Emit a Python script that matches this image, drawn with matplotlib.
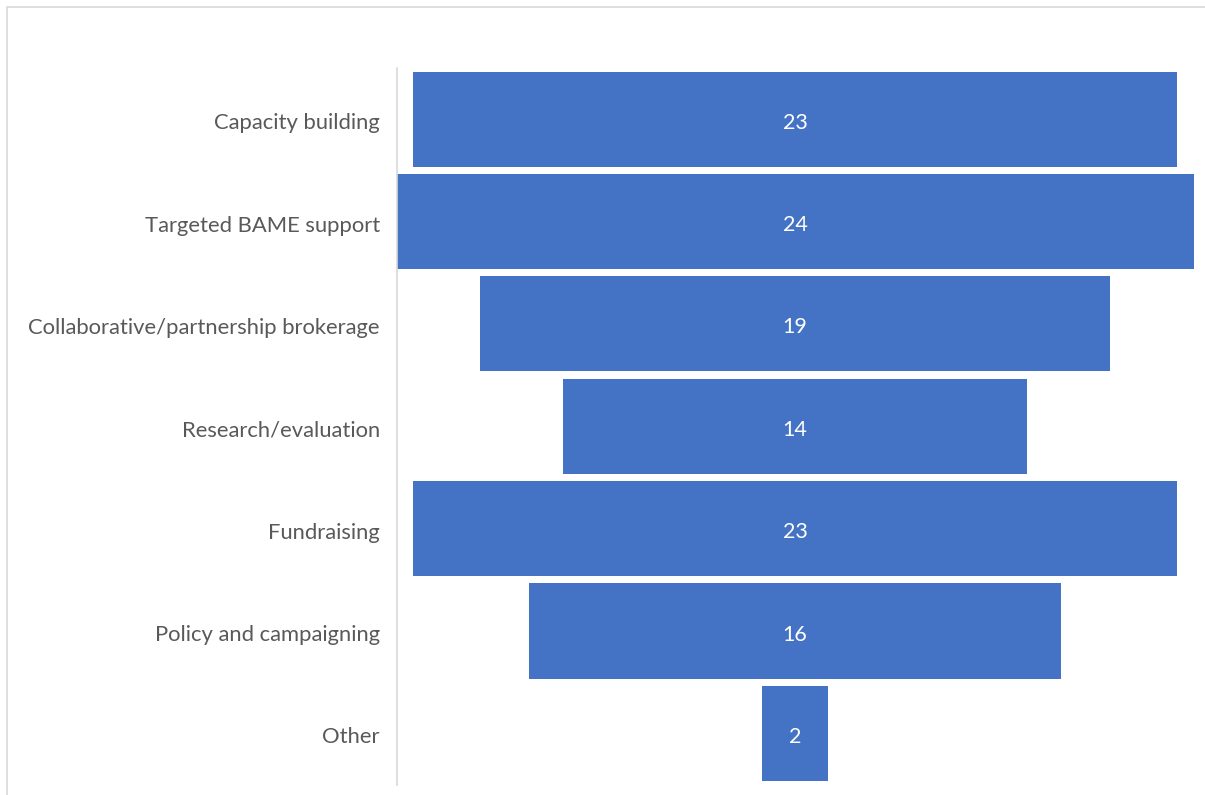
import matplotlib.pyplot as plt
from matplotlib.patches import Rectangle
from matplotlib.transforms import ScaledTranslation

categories = ['Capacity building', 'Targeted BAME support',
              'Collaborative/partnership brokerage', 'Research/evaluation',
              'Fundraising', 'Policy and campaigning', 'Other']
counts = [23, 24, 19, 14, 23, 16, 2]

plt.rcParams['font.family'] = ['Lato', 'DejaVu Sans']

fig = plt.figure(figsize=(12.05, 7.95), dpi=100)

# thin grey frame around the chart area
fig.patches.append(Rectangle((7 / 1205, -0.1), 1.2, 0.1 + (795 - 6.5) / 795,
                             transform=fig.transFigure, fill=False,
                             edgecolor='#d9d9d9', linewidth=1.2))

ax = fig.add_axes([396.5 / 1205, 10.5 / 795, 797 / 1205, 716.5 / 795])

# funnel: each bar is centred on zero
ypos = list(range(len(categories)))
lefts = [-c / 2 for c in counts]
ax.barh(ypos, counts, left=lefts, height=0.93, color='#4472c4')

for y, c in zip(ypos, counts):
    ax.text(0, y + 0.035, str(c), ha='center', va='center', color='white',
            fontsize=15.5)

ax.set_xlim(-12, 12)
ax.set_ylim(len(categories) - 0.5, -0.5)
ax.set_yticks(ypos)
ax.set_yticklabels(categories, fontsize=15.8, color='#595959')
ax.tick_params(axis='y', length=0, pad=12)
ax.set_xticks([])

# nudge category labels down a touch
shift = ScaledTranslation(0, -2 / 100, fig.dpi_scale_trans)
for lbl in ax.get_yticklabels():
    lbl.set_transform(lbl.get_transform() + shift)

for side in ['top', 'right', 'bottom']:
    ax.spines[side].set_visible(False)
ax.spines['left'].set_color('#d9d9d9')
ax.spines['left'].set_linewidth(1.2)

fig.savefig('out.png', dpi=100)
